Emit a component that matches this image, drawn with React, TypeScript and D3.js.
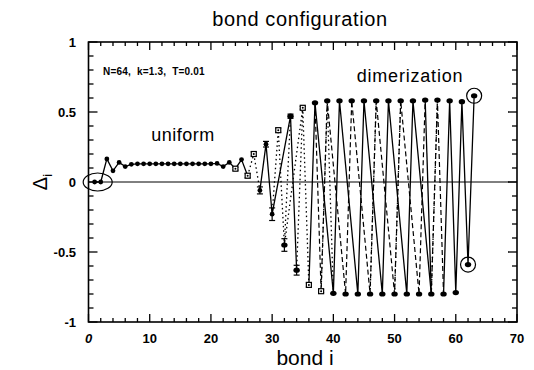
import React from "react";
import * as d3 from "d3";

const bonds = [
  1, 2, 3, 4, 5, 6, 7, 8, 9, 10, 11, 12, 13, 14, 15, 16, 17, 18, 19, 20, 21,
  22, 23, 24, 25, 26, 27, 28, 29, 30, 31, 32, 33, 34, 35, 36, 37, 38, 39, 40,
  41, 42, 43, 44, 45, 46, 47, 48, 49, 50, 51, 52, 53, 54, 55, 56, 57, 58, 59,
  60, 61, 62, 63,
];
const delta = [
  0, 0, 0.165, 0.08, 0.14, 0.11, 0.126, 0.13, 0.13, 0.13, 0.13, 0.13, 0.13,
  0.13, 0.13, 0.13, 0.13, 0.13, 0.13, 0.13, 0.133, 0.11, 0.14, 0.095, 0.16,
  0.045, 0.2, -0.06, 0.27, -0.23, 0.37, -0.45, 0.47, -0.63, 0.53, -0.735,
  0.566, -0.78, 0.58, -0.795, 0.58, -0.8, 0.58, -0.8, 0.58, -0.8, 0.58, -0.8,
  0.58, -0.8, 0.58, -0.8, 0.58, -0.8, 0.585, -0.8, 0.585, -0.8, 0.58, -0.79,
  0.574, -0.59, 0.616,
];
const errBonds = [24, 26, 27, 28, 29, 30, 31, 32, 33, 34, 35, 36, 38];
const errVals = [0.01, 0.015, 0.015, 0.025, 0.02, 0.045, 0.015, 0.045, 0.015, 0.035, 0.01, 0.015, 0.01];
const squareBonds = [24, 26, 27, 31, 35, 36, 38];

const solidRuns = [
  [1, 2, 3, 4, 5, 6, 7, 8, 9, 10, 11, 12, 13, 14, 15, 16, 17, 18, 19, 20, 21, 22, 23, 24, 25, 26],
  [28, 29, 30, 33, 34],
  [36, 37, 40, 41, 44, 45, 48, 49, 52, 53, 56],
  [55, 56],
  [58, 59, 60, 61, 62, 63],
];
const dashedRuns = [
  [37, 38, 39, 42, 43, 46, 47, 50, 51, 54, 55],
  [56, 57, 58],
];
const dottedRuns = [
  [26, 27, 28],
  [30, 31, 32, 35, 36],
  [33, 32],
  [34, 35],
  [38, 39, 40],
  [46, 47],
  [50, 51],
  [56, 57],
];

const xTicks = [0, 10, 20, 30, 40, 50, 60, 70];
const yTicks = [-1, -0.5, 0, 0.5, 1];
const yTickLabels = ["-1", "-0.5", "0", "0.5", "1"];

export default function App() {
  const W = 534, H = 370;
  const x = d3.scaleLinear().domain([0, 70]).range([88.5, 517]);
  const y = d3.scaleLinear().domain([-1, 1]).range([322, 42]);
  const [x0, x1] = x.range();
  const [yb, yt] = y.range();
  const val = (b: number) => delta[bonds.indexOf(b)];
  const line = d3
    .line<number>()
    .x((b) => x(b))
    .y((b) => y(val(b)));

  const xMinor = d3.range(0, 70.01, 2);
  const yMinor = d3.range(-1, 1.001, 0.1);
  const isMajX = (v: number) => Math.abs(v % 10) < 1e-6;
  const isMajY = (v: number) => Math.abs(Math.round(v * 2) - v * 2) < 1e-6;
  const font = "'Liberation Sans', Arial, Helvetica, sans-serif";

  return (
    <svg width={W} height={H} style={{ position: "absolute", left: 0, top: 0, background: "#fff" }}>
      <rect width={W} height={H} fill="#fff" />
      <line x1={x0} x2={x1} y1={y(0)} y2={y(0)} stroke="#000" strokeWidth={1} />
      {xMinor.map((v, i) => {
        const len = isMajX(v) ? 8 : 4;
        return (
          <g key={"xt" + i}>
            <line x1={x(v)} x2={x(v)} y1={yb} y2={yb - len} stroke="#000" strokeWidth={1.3} />
            <line x1={x(v)} x2={x(v)} y1={yt} y2={yt + len} stroke="#000" strokeWidth={1.3} />
          </g>
        );
      })}
      {yMinor.map((v, i) => {
        const len = isMajY(v) ? 9 : 5;
        return (
          <g key={"yt" + i}>
            <line x1={x0} x2={x0 + len} y1={y(v)} y2={y(v)} stroke="#000" strokeWidth={1.3} />
            <line x1={x1} x2={x1 - len} y1={y(v)} y2={y(v)} stroke="#000" strokeWidth={1.3} />
          </g>
        );
      })}
      <rect x={x0} y={yt} width={x1 - x0} height={yb - yt} fill="none" stroke="#000" strokeWidth={1.6} />
      {dottedRuns.map((r, i) => (
        <path key={"dr" + i} d={line(r) || ""} fill="none" stroke="#000" strokeWidth={1.3} strokeDasharray="1.5,3" />
      ))}
      {dashedRuns.map((r, i) => (
        <path key={"da" + i} d={line(r) || ""} fill="none" stroke="#000" strokeWidth={1.2} strokeDasharray="5,3" />
      ))}
      {solidRuns.map((r, i) => (
        <path key={"sr" + i} d={line(r) || ""} fill="none" stroke="#000" strokeWidth={1.3} />
      ))}
      {errBonds.map((b, i) => {
        const v = val(b);
        const e = errVals[i];
        const cx = x(b);
        return (
          <g key={"eb" + i} stroke="#000" strokeWidth={1.2}>
            <line x1={cx} x2={cx} y1={y(v - e)} y2={y(v + e)} />
            <line x1={cx - 3} x2={cx + 3} y1={y(v - e)} y2={y(v - e)} />
            <line x1={cx - 3} x2={cx + 3} y1={y(v + e)} y2={y(v + e)} />
          </g>
        );
      })}
      {bonds.map((b, i) => {
        const cx = x(b), cy = y(delta[i]);
        if (squareBonds.includes(b)) {
          return (
            <g key={"m" + i}>
              <rect x={cx - 2.5} y={cy - 2.5} width={5} height={5} fill="#fff" stroke="#000" strokeWidth={1.2} />
              <circle cx={cx} cy={cy} r={1} fill="#000" />
            </g>
          );
        }
        const big = Math.abs(delta[i]) > 0.3;
        return <ellipse key={"m" + i} cx={cx} cy={cy} rx={big ? 3.2 : 2.4} ry={big ? 2.6 : 2.4} fill="#000" />;
      })}
      <ellipse cx={(x(1) + x(2)) / 2} cy={y(0)} rx={14.5} ry={9} fill="none" stroke="#000" strokeWidth={1.2} />
      <circle cx={x(63)} cy={y(val(63))} r={7.5} fill="none" stroke="#000" strokeWidth={1.2} />
      <circle cx={x(62)} cy={y(val(62))} r={7.5} fill="none" stroke="#000" strokeWidth={1.2} />
      {yTicks.map((v, i) => (
        <text key={"yl" + i} x={76} y={y(v)} dy="0.36em" textAnchor="end" fontFamily={font} fontWeight="bold" fontSize={13}>
          {yTickLabels[i]}
        </text>
      ))}
      {xTicks.map((v, i) => (
        <text key={"xl" + i} x={x(v)} y={343} textAnchor="middle" fontFamily={font} fontWeight="bold" fontSize={13} fontStyle={v === 0 ? "italic" : "normal"}>
          {v}
        </text>
      ))}
      <text x={300} y={26} textAnchor="middle" fontFamily={font} fontSize={20} letterSpacing={0.6}>bond configuration</text>
      <text x={305} y={365} textAnchor="middle" fontFamily={font} fontSize={21}>bond i</text>
      <g transform={`translate(47, ${y(0)}) rotate(-90)`}>
        <text textAnchor="middle" fontFamily={font} fontSize={20}>
          Δ<tspan fontSize={13} dy={5}>i</tspan>
        </text>
      </g>
      <text x={103} y={75} fontFamily={font} fontWeight="bold" fontSize={10} letterSpacing={0.2}>{"N=64,\u00a0\u00a0k=1.3,\u00a0\u00a0T=0.01"}</text>
      <text x={410} y={82} textAnchor="middle" fontFamily={font} fontSize={18} letterSpacing={0.8}>dimerization</text>
      <text x={183} y={141} textAnchor="middle" fontFamily={font} fontSize={18} letterSpacing={0.5}>uniform</text>
    </svg>
  );
}
